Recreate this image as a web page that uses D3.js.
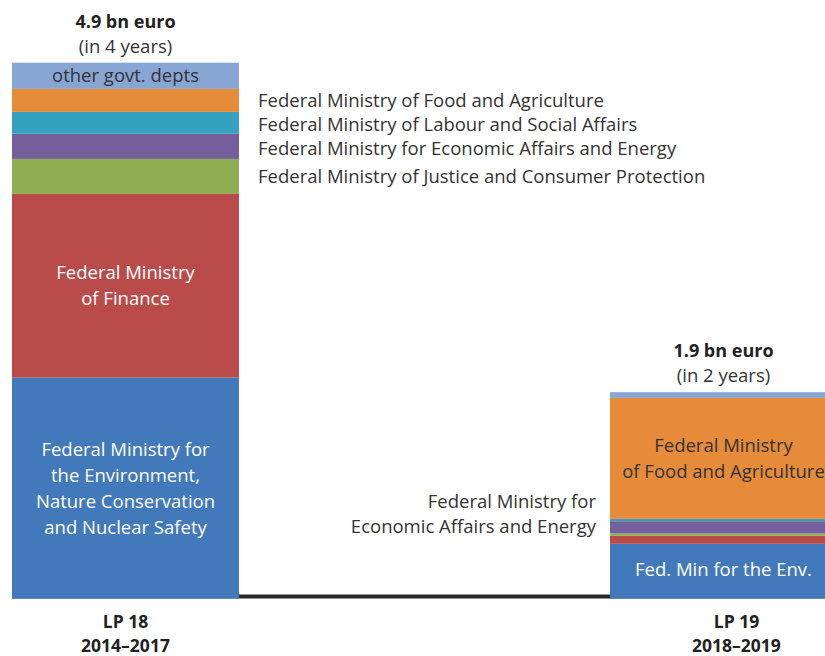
<!DOCTYPE html>
<html>
<head>
<meta charset="utf-8">
<script src="https://cdn.jsdelivr.net/npm/d3@7"></script>
<style>
  body { margin: 0; background: #fff; }
  svg { display: block; font-family: "Open Sans", "Noto Sans", sans-serif; }
</style>
</head>
<body>
<script>
// periods (bars)
const periods = ["LP 18", "LP 19"];
const periodYears = ["2014–2017", "2018–2019"];
const totalLabels = ["4.9 bn euro", "1.9 bn euro"];
const spanLabels = ["(in 4 years)", "(in 2 years)"];

// ministries, bottom to top
const ministries = [
  "Environment", "Finance", "Justice", "Economic", "Labour", "Food", "Other"
];
const colors = ["#4279ba", "#b94b4a", "#8fad51", "#765f9d", "#35a1c0", "#e68b3a", "#88a6d3"];

// values in bn euro
const lp18 = [2.02, 1.68, 0.32, 0.23, 0.20, 0.21, 0.24];
const lp19 = [0.50, 0.073, 0.022, 0.112, 0.021, 1.107, 0.052];

const width = 825, height = 656;
const fs = 18.5;

const svg = d3.select("body").append("svg")
    .attr("width", width)
    .attr("height", height);

const x = d3.scaleBand()
    .domain(periods)
    .range([12, 837])
    .paddingInner(0.6204)
    .paddingOuter(0);

const y = d3.scaleLinear()
    .domain([0, 4.9])
    .range([598.5, 62.7]);

// stack both periods
const rows = ministries.map((m, i) => ({ ministry: m, "LP 18": lp18[i], "LP 19": lp19[i] }));
const segs = [];
periods.forEach(p => {
    let acc = 0;
    rows.forEach((r, i) => {
        segs.push({ period: p, ministry: r.ministry, y0: acc, y1: acc + r[p], color: colors[i] });
        acc += r[p];
    });
});

// baseline
svg.append("line")
    .attr("x1", x("LP 18"))
    .attr("x2", x("LP 19") + x.bandwidth())
    .attr("y1", y(0) - 2)
    .attr("y2", y(0) - 2)
    .attr("stroke", "#2a2a2a")
    .attr("stroke-width", 4);

svg.selectAll("rect.seg")
    .data(segs)
  .enter().append("rect")
    .attr("class", "seg")
    .attr("x", d => x(d.period))
    .attr("width", x.bandwidth())
    .attr("y", d => y(d.y1))
    .attr("height", d => y(d.y0) - y(d.y1))
    .attr("fill", d => d.color);

const seg = (p, m) => segs.find(d => d.period === p && d.ministry === m);
const mid = d => (y(d.y0) + y(d.y1)) / 2;

function block(lines, cx, cy, opts) {
    const lh = opts.lh || 26;
    const t = svg.append("text")
        .attr("text-anchor", opts.anchor || "middle")
        .attr("fill", opts.fill || "#333")
        .style("font-size", (opts.size || fs) + "px")
        .style("font-weight", opts.weight || "normal");
    lines.forEach((l, i) => {
        t.append("tspan")
            .attr("x", cx)
            .attr("y", cy + (i - (lines.length - 1) / 2) * lh + 6.5)
            .text(l);
    });
}

// totals above bars
periods.forEach((p, i) => {
    const cx = x(p) + x.bandwidth() / 2;
    const top = y(d3.sum(i === 0 ? lp18 : lp19));
    svg.append("text")
        .attr("x", cx).attr("y", top - 35)
        .attr("text-anchor", "middle")
        .attr("fill", "#222")
        .style("font-size", "18px").style("font-weight", "bold")
        .text(totalLabels[i]);
    svg.append("text")
        .attr("x", cx).attr("y", top - 10)
        .attr("text-anchor", "middle")
        .attr("fill", "#333")
        .style("font-size", fs + "px")
        .text(spanLabels[i]);
});

// category labels under bars
periods.forEach((p, i) => {
    const cx = x(p) + x.bandwidth() / 2 + (i === 1 ? 13 : 0);
    block([p, periodYears[i]], cx, 633.5, { weight: "bold", fill: "#222", size: 17.5, lh: 24 });
});

// labels inside left bar
const c18 = x("LP 18") + x.bandwidth() / 2;
block(["other govt. depts"], c18, mid(seg("LP 18", "Other")), {});
block(["Federal Ministry", "of Finance"], c18, mid(seg("LP 18", "Finance")), { fill: "#fff" });
block(["Federal Ministry for", "the Environment,", "Nature Conservation", "and Nuclear Safety"],
      c18, mid(seg("LP 18", "Environment")), { fill: "#fff" });

// labels beside left bar
const sideNames = {
    Food: "Federal Ministry of Food and Agriculture",
    Labour: "Federal Ministry of Labour and Social Affairs",
    Economic: "Federal Ministry for Economic Affairs and Energy",
    Justice: "Federal Ministry of Justice and Consumer Protection"
};
let lastY = -Infinity;
["Food", "Labour", "Economic", "Justice"].forEach(m => {
    const cy = Math.max(mid(seg("LP 18", m)), lastY + 24);
    lastY = cy;
    block([sideNames[m]], x("LP 18") + x.bandwidth() + 19, cy, { anchor: "start" });
});

// labels for right bar
const c19 = x("LP 19") + x.bandwidth() / 2;
block(["Federal Ministry", "of Food and Agriculture"], c19, mid(seg("LP 19", "Food")), {});
block(["Fed. Min for the Env."], c19, mid(seg("LP 19", "Environment")) - 2, { fill: "#fff" });
block(["Federal Ministry for", "Economic Affairs and Energy"],
      x("LP 19") - 14, mid(seg("LP 19", "Economic")) - 13, { anchor: "end", lh: 25 });
</script>
</body>
</html>
